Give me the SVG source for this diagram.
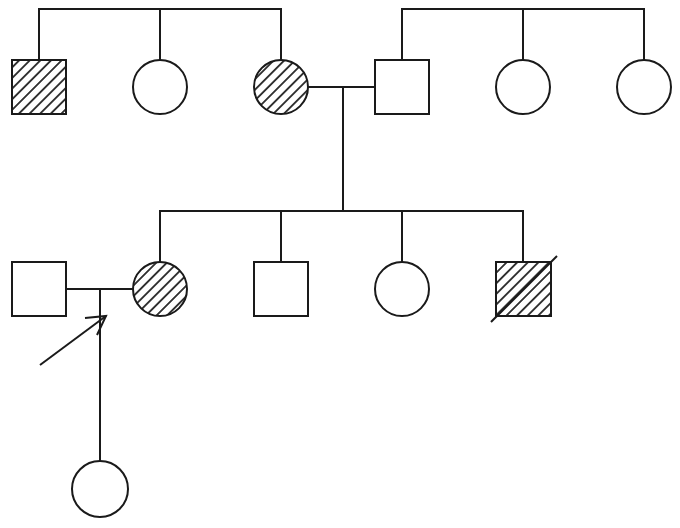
<svg xmlns="http://www.w3.org/2000/svg" width="680" height="528" viewBox="0 0 680 528">
<style>
.s{fill:#fff;stroke:#1a1a1a;stroke-width:2}
.h{fill:url(#hatch);stroke:#1a1a1a;stroke-width:2}
.c{fill:none;stroke:#1a1a1a;stroke-width:2}
</style>
<defs>
<pattern id="hatch" width="7.5" height="7.5" patternUnits="userSpaceOnUse" patternTransform="rotate(45)">
<rect width="7.5" height="7.5" fill="#fff"/>
<line x1="3.75" y1="0" x2="3.75" y2="7.5" stroke="#1a1a1a" stroke-width="1.7"/>
</pattern>
</defs>
<rect width="680" height="528" fill="#fff"/>
<g id="connectors" class="c">
<polyline points="39,60 39,9 281,9 281,60"/>
<line x1="160" y1="9" x2="160" y2="60"/>
<polyline points="402,60 402,9 644,9 644,60"/>
<line x1="523" y1="9" x2="523" y2="60"/>
<line x1="308" y1="87" x2="375" y2="87"/>
<line x1="343" y1="87" x2="343" y2="211"/>
<polyline points="160,262 160,211 523,211 523,262"/>
<line x1="281" y1="211" x2="281" y2="262"/>
<line x1="402" y1="211" x2="402" y2="262"/>
<line x1="66" y1="289" x2="133" y2="289"/>
<line x1="100" y1="289" x2="100" y2="461"/>
</g>
<g id="proband-arrow" class="c">
<line x1="40" y1="365" x2="106" y2="316"/>
<polyline points="85,318 106,316 97,335"/>
</g>
<g id="g1-m1"><rect class="h" x="12" y="60" width="54" height="54"/></g>
<g id="g1-f1"><circle class="s" cx="160" cy="87" r="27"/></g>
<g id="g1-f2"><circle class="h" cx="281" cy="87" r="27"/></g>
<g id="g1-m2"><rect class="s" x="375" y="60" width="54" height="54"/></g>
<g id="g1-f3"><circle class="s" cx="523" cy="87" r="27"/></g>
<g id="g1-f4"><circle class="s" cx="644" cy="87" r="27"/></g>
<g id="g2-m0"><rect class="s" x="12" y="262" width="54" height="54"/></g>
<g id="g2-f1"><circle class="h" cx="160" cy="289" r="27"/></g>
<g id="g2-m1"><rect class="s" x="254" y="262" width="54" height="54"/></g>
<g id="g2-f2"><circle class="s" cx="402" cy="289" r="27"/></g>
<g id="g2-m2"><rect class="h" x="496" y="262" width="55" height="54"/><line class="c" x1="491" y1="322" x2="557" y2="256"/></g>
<g id="g3-f1"><circle class="s" cx="100" cy="489" r="28"/></g>
</svg>
